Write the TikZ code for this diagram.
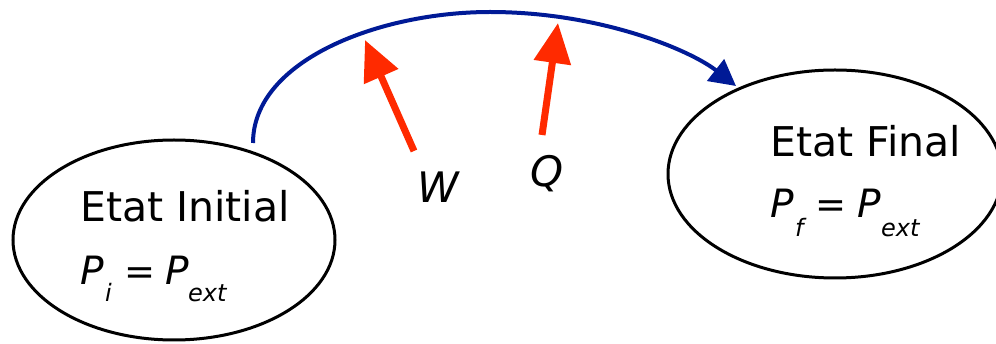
\documentclass[tikz,border=0pt]{standalone}
\usepackage{fontspec}
\setmainfont{DejaVu Sans}
\usetikzlibrary{shapes.geometric,arrows.meta}
\definecolor{arcblue}{RGB}{0,26,150}
\definecolor{heatred}{RGB}{255,42,0}
\tikzset{
  state/.style={ellipse, draw=black, line width=3pt, inner sep=0pt},
  lbl/.style={anchor=base west, inner sep=0pt, font=\fontsize{41}{41}\selectfont},
  sym/.style={anchor=base west, inner sep=0pt, font=\fontsize{39}{39}\selectfont\itshape},
  sub/.style={anchor=base west, inner sep=0pt, font=\fontsize{24}{24}\selectfont\itshape},
  eqs/.style={anchor=base west, inner sep=0pt, font=\fontsize{37}{37}\selectfont},
  big/.style={anchor=base west, inner sep=0pt, font=\fontsize{42}{42}\selectfont\itshape},
  flow/.style={draw=arcblue, line width=4pt, -{Triangle[length=26pt,width=27pt]}},
  energy/.style={draw=heatred, line width=7pt, -{Triangle[length=40pt,width=36pt]}}
}
\begin{document}
\begin{tikzpicture}[x=1pt,y=-1pt]
\useasboundingbox (0,0) rectangle (996,344);
\node[state, minimum width=322pt, minimum height=200pt] (ini) at (174,240) {};
\node[state, minimum width=334pt, minimum height=208pt] (fin) at (835,174) {};
% texts left
\node[lbl] (tini) at (80,222) {Etat Initial};
\node[sym] (p1) at (80,285) {P};
\node[sub] (s1) at (105,302) {i};
\node[eqs] (e1) at (124,285) {=};
\node[sym] (p2) at (165,285) {P};
\node[sub] (s2) at (188,302) {ext};
% texts right
\node[lbl] (tfin) at (770,157) {Etat Final};
\node[sym] (p3) at (770,218) {P};
\node[sub] (s3) at (795,237) {f};
\node[eqs] (e2) at (815,218) {=};
\node[sym] (p4) at (857,218) {P};
\node[sub] (s4) at (881,237) {ext};
% W and Q
\node[big] (w) at (417,203) {W};
\node[big] (q) at (530,187) {Q};
% arc
\coordinate (a0) at (253,143);
\coordinate (amid) at (490,12);
\coordinate (a1) at (736,86);
\draw[flow] (a0) .. controls (253,60) and (380,12) .. (amid) .. controls (600,12) and (690,50) .. (a1);
% red arrows
\coordinate (w0) at (414,151);
\coordinate (w1) at (365,40);
\coordinate (q0) at (542,135);
\coordinate (q1) at (558,23);
\draw[energy] (w0) -- (w1);
\draw[energy] (q0) -- (q1);
\end{tikzpicture}
\end{document}
